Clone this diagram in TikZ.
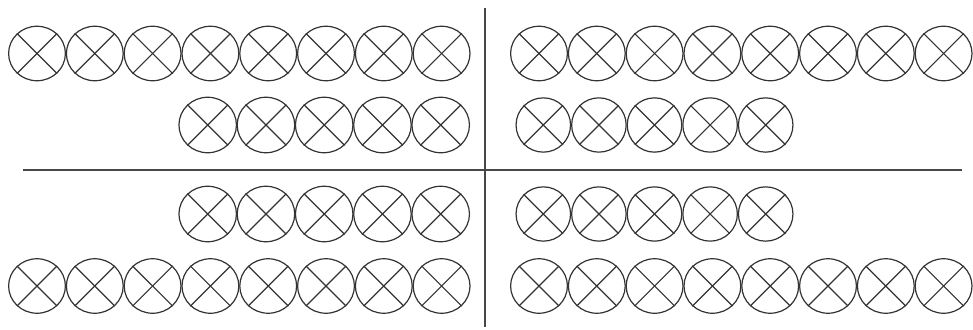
\documentclass[tikz,border=0pt]{standalone}
\usetikzlibrary{shapes.geometric}
\definecolor{ink}{HTML}{333333}
\tikzset{
  xc/.style={ellipse, draw=ink, line width=1.2pt, inner sep=0pt,
    minimum width=56.8pt, minimum height=54.5pt,
    append after command={
      (\tikzlastnode.45) edge[draw=ink, line width=1.2pt] (\tikzlastnode.225)
      (\tikzlastnode.135) edge[draw=ink, line width=1.2pt] (\tikzlastnode.315)}},
  xcl/.style={xc, minimum width=57.5pt, minimum height=55.5pt},
  xcs/.style={xc, minimum width=54.5pt, minimum height=54.3pt},
  rule/.style={draw=ink!90, line width=1.6pt}
}
\begin{document}
\begin{tikzpicture}[x=1pt,y=-1pt]
\useasboundingbox (0,0) rectangle (973,329);
% top-left row of 8
\foreach \k in {0,...,7}{\node[xc] (a\k) at ({37+57.8*\k},53.5) {};}
% top-right row of 8
\foreach \k in {0,...,7}{\node[xc] (b\k) at ({539+57.8*\k},53.5) {};}
% second rows
\foreach \k in {0,...,4}{\node[xcl] (c\k) at ({207.7+58.25*\k},125) {};}
\foreach \k in {0,...,4}{\node[xcs] (d\k) at ({543.3+55.6*\k},125) {};}
% third rows
\foreach \k in {0,...,4}{\node[xcl] (e\k) at ({207.7+58.25*\k},214) {};}
\foreach \k in {0,...,4}{\node[xcs] (f\k) at ({543.3+55.6*\k},214) {};}
% bottom rows of 8
\foreach \k in {0,...,7}{\node[xc] (g\k) at ({37+57.8*\k},286) {};}
\foreach \k in {0,...,7}{\node[xc] (h\k) at ({539+57.8*\k},286) {};}
% axes
\coordinate (hl) at (23,170);
\coordinate (hr) at (962,170);
\coordinate (vt) at (485,8);
\coordinate (vb) at (485,327);
\draw[rule] (hl) -- (hr);
\draw[rule] (vt) -- (vb);
\end{tikzpicture}
\end{document}
